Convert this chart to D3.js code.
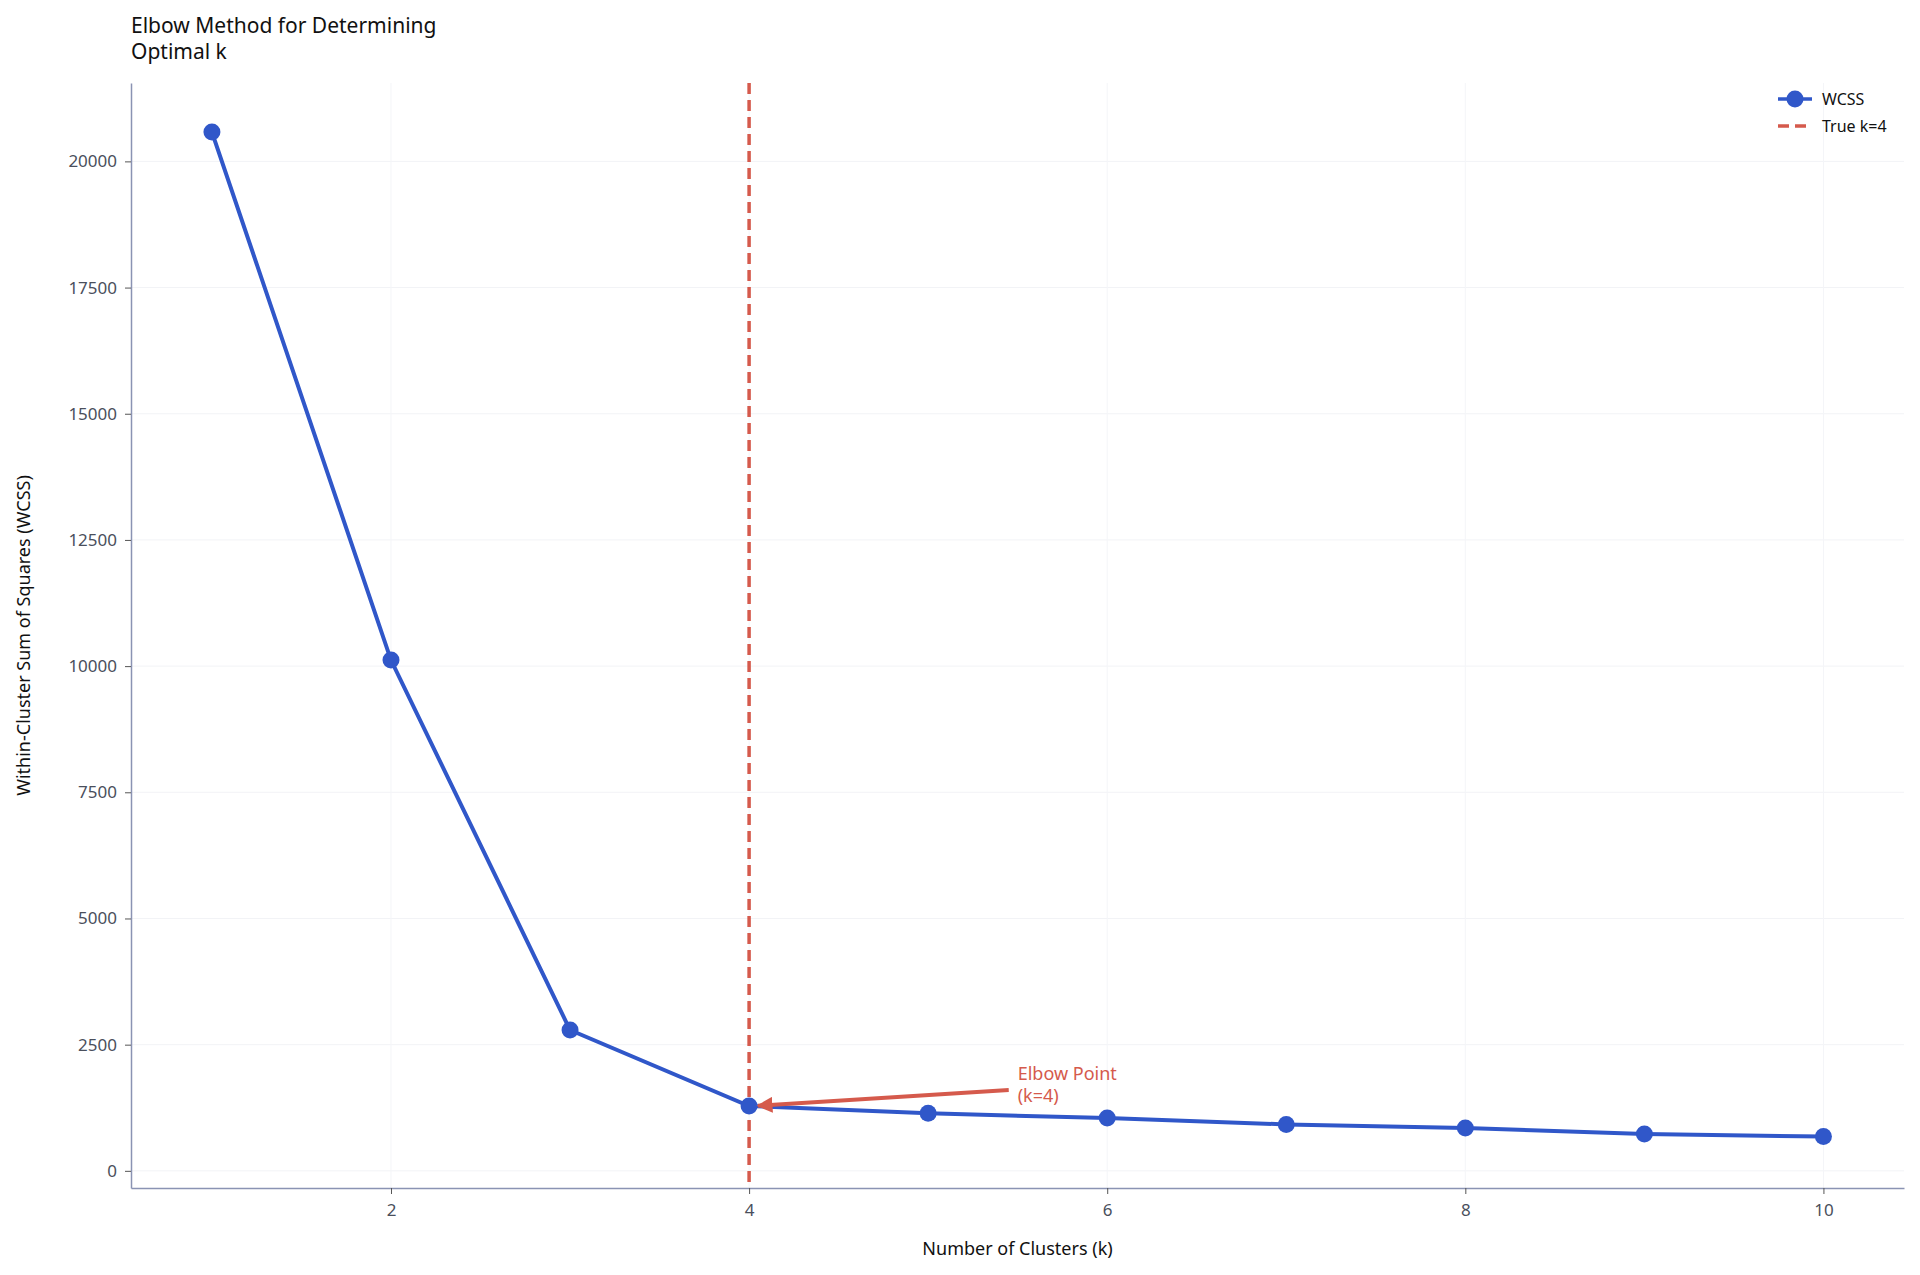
<!DOCTYPE html>
<html>
<head>
<meta charset="utf-8">
<script src="https://d3js.org/d3.v7.min.js"></script>
<style>
  body { margin: 0; background: #fff; font-family: "Noto Sans", sans-serif; }
</style>
</head>
<body>
<svg id="chart"></svg>
<script>
var ks = [1, 2, 3, 4, 5, 6, 7, 8, 9, 10];
var wcss = [20580, 10120, 2790, 1285, 1140, 1045, 920, 850, 730, 680];
var trueK = 4;
var xTicks = [2, 4, 6, 8, 10];
var yTicks = [0, 2500, 5000, 7500, 10000, 12500, 15000, 17500, 20000];

var W = 1920, H = 1275;
var m = { left: 131, right: 16, top: 83, bottom: 87 };
var red = '#d55a4c', blue = '#3057c9';
var svg = d3.select('#chart').attr('width', W).attr('height', H);

var x = d3.scaleLinear().domain([0.548, 10.45]).range([m.left, W - m.right]);
var y = d3.scaleLinear().domain([-340, 21553]).range([H - m.bottom, m.top]);

// grid
svg.append('g').selectAll('line').data(yTicks).enter().append('line')
  .attr('x1', m.left).attr('x2', W - m.right)
  .attr('y1', d => y(d)).attr('y2', d => y(d))
  .attr('stroke', '#f2f3f6').attr('stroke-width', 1);
svg.append('g').selectAll('line').data(xTicks).enter().append('line')
  .attr('y1', m.top).attr('y2', H - m.bottom)
  .attr('x1', d => x(d)).attr('x2', d => x(d))
  .attr('stroke', '#f4f5f8').attr('stroke-width', 1);

// axes
var xAxis = svg.append('g').attr('transform', 'translate(0,' + (H - m.bottom) + ')')
  .call(d3.axisBottom(x).tickValues(xTicks).tickSize(6).tickPadding(10).tickSizeOuter(0));
var yAxis = svg.append('g').attr('transform', 'translate(' + m.left + ',0)')
  .call(d3.axisLeft(y).tickValues(yTicks).tickFormat(d3.format('d'))
    .tickSize(6).tickPadding(8).tickSizeOuter(0));
[xAxis, yAxis].forEach(function(a) {
  a.select('.domain').attr('stroke', '#8a93b3').attr('stroke-width', 1.5);
  a.selectAll('.tick line').attr('stroke', '#555');
  a.selectAll('.tick text').attr('fill', '#4a4f5c').attr('font-size', 17)
    .attr('font-family', '"Noto Sans", sans-serif');
});

// true k line
svg.append('line')
  .attr('x1', x(trueK)).attr('x2', x(trueK))
  .attr('y1', m.top).attr('y2', H - m.bottom)
  .attr('stroke', red).attr('stroke-width', 3.5).attr('stroke-dasharray', '11,6');

// WCSS line
var line = d3.line().x((d, i) => x(ks[i])).y(d => y(d));
svg.append('path').datum(wcss).attr('d', line)
  .attr('fill', 'none').attr('stroke', blue).attr('stroke-width', 4);
svg.append('g').selectAll('circle').data(wcss).enter().append('circle')
  .attr('cx', (d, i) => x(ks[i])).attr('cy', d => y(d)).attr('r', 8.5)
  .attr('fill', blue);

// annotation
svg.append('defs').append('marker').attr('id', 'arr')
  .attr('viewBox', '0 0 10 10').attr('refX', 9).attr('refY', 5)
  .attr('markerWidth', 4).attr('markerHeight', 4).attr('orient', 'auto')
  .append('path').attr('d', 'M0,0L10,5L0,10z').attr('fill', red);
svg.append('line')
  .attr('x1', x(5.45)).attr('y1', y(1600))
  .attr('x2', x(4.05)).attr('y2', y(1290))
  .attr('stroke', red).attr('stroke-width', 4).attr('marker-end', 'url(#arr)');
var ann = svg.append('text').attr('fill', red).attr('font-size', 18);
ann.append('tspan').attr('x', x(5.5)).attr('y', y(1800)).text('Elbow Point');
ann.append('tspan').attr('x', x(5.5)).attr('dy', 22).text('(k=4)');

// labels
var title = svg.append('text').attr('font-size', 21).attr('fill', '#111');
title.append('tspan').attr('x', m.left).attr('y', 33).text('Elbow Method for Determining');
title.append('tspan').attr('x', m.left).attr('dy', 26).text('Optimal k');
svg.append('text').attr('x', (m.left + W - m.right) / 2).attr('y', 1255)
  .attr('text-anchor', 'middle').attr('font-size', 18).attr('fill', '#111')
  .text('Number of Clusters (k)');
svg.append('text').attr('transform', 'translate(30,' + ((m.top + H - m.bottom) / 2) + ') rotate(-90)')
  .attr('text-anchor', 'middle').attr('font-size', 18).attr('fill', '#111')
  .text('Within-Cluster Sum of Squares (WCSS)');

// legend
var lg = svg.append('g').attr('transform', 'translate(1778,99)');
lg.append('line').attr('x1', 0).attr('x2', 34).attr('y1', 0).attr('y2', 0)
  .attr('stroke', blue).attr('stroke-width', 3.5);
lg.append('circle').attr('cx', 17).attr('cy', 0).attr('r', 8.5).attr('fill', blue);
lg.append('text').attr('x', 44).attr('y', 6).attr('font-size', 16).attr('fill', '#111').text('WCSS');
lg.append('line').attr('x1', 0).attr('x2', 34).attr('y1', 27).attr('y2', 27)
  .attr('stroke', red).attr('stroke-width', 3.5).attr('stroke-dasharray', '11,6');
lg.append('text').attr('x', 44).attr('y', 33).attr('font-size', 16).attr('fill', '#111').text('True k=4');
</script>
</body>
</html>
